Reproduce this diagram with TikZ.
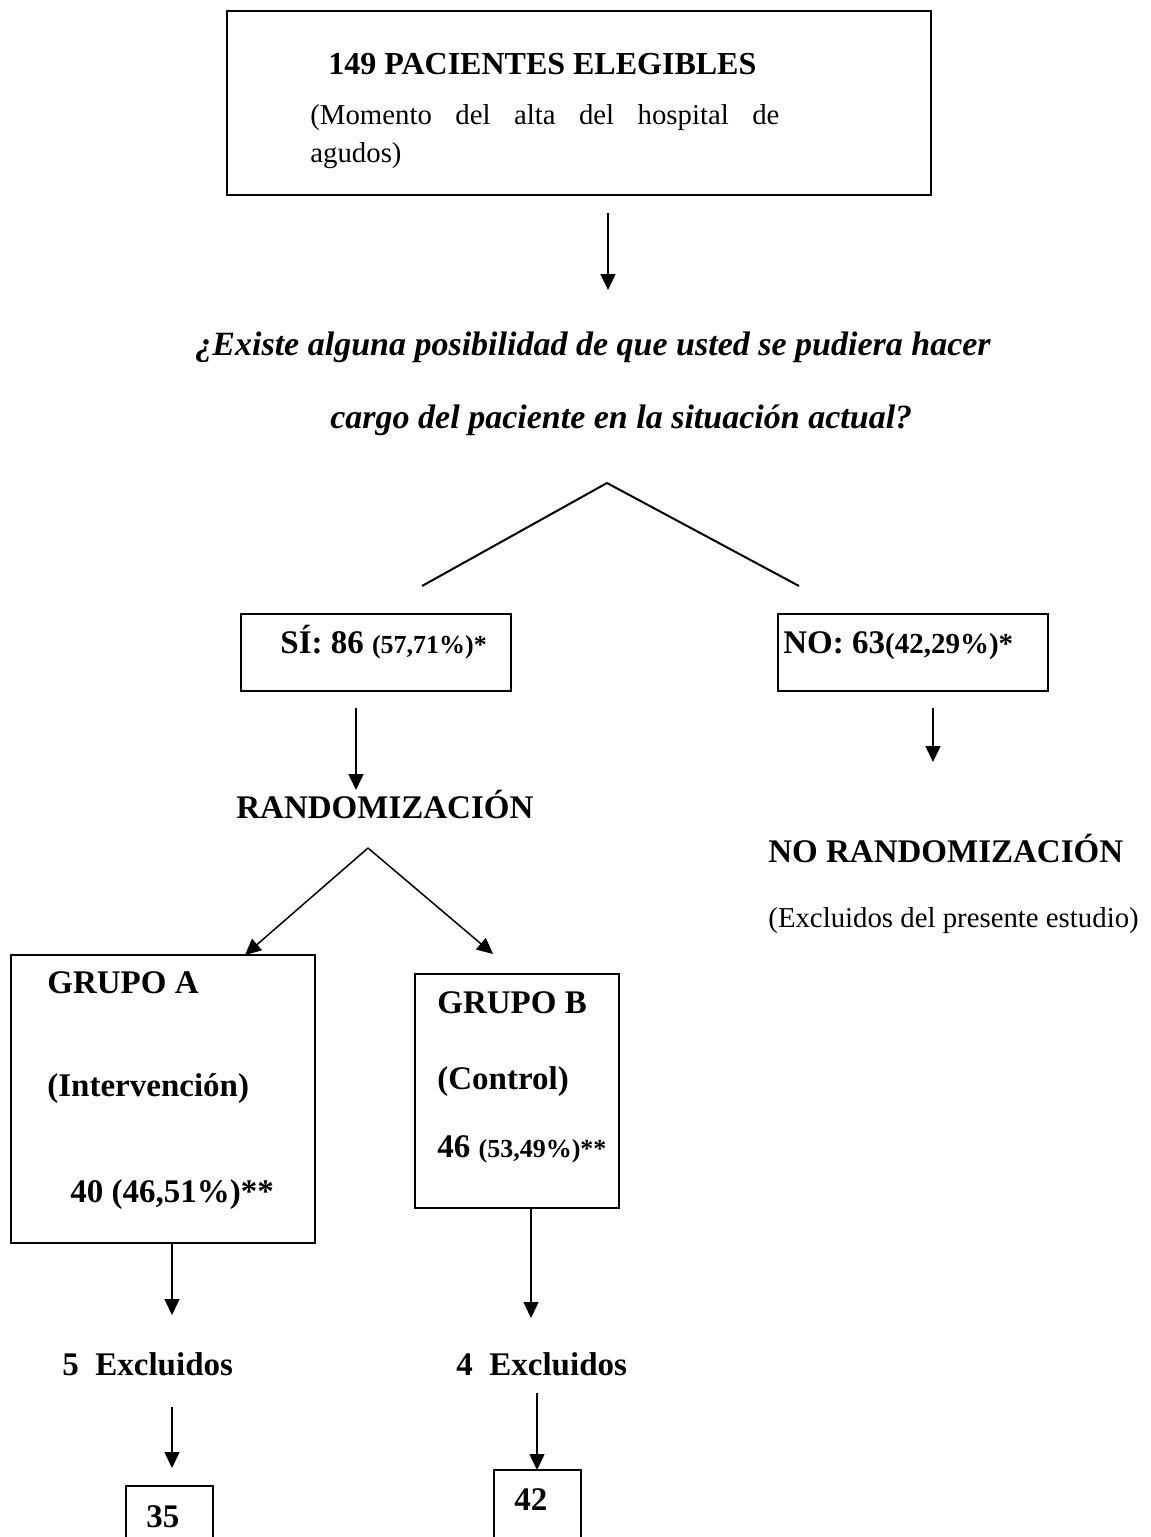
\documentclass[tikz,border=0pt]{standalone}
\usepackage{fontspec}
\setmainfont{Liberation Serif}
\usetikzlibrary{arrows.meta,fit}
\begin{document}
\begin{tikzpicture}[x=0.5pt,y=-0.5pt,
  box/.style={draw,line width=1pt,inner sep=0pt},
  lbl/.style={inner sep=0pt,anchor=base west},
  head/.style={lbl,font=\fontsize{16.5}{20}\selectfont\bfseries},
  body/.style={lbl,font=\fontsize{14.4}{19}\selectfont},
  quest/.style={lbl,font=\fontsize{17}{20}\selectfont\bfseries\itshape},
  arr/.style={line width=0.75pt,-{Triangle[width=7.5pt,length=8pt]}},
  branch/.style={line width=1pt}]
\newcommand{\pct}[2][13]{{\fontsize{#1}{16}\selectfont #2}}
\useasboundingbox[fill=white] (0,0) rectangle (1151,1537);

% boxes
\node[box,fit={(227,11) (931,195)}] (top) {};
\node[box,fit={(241,614) (511,691)}] (si) {};
\node[box,fit={(778,614) (1048,691)}] (no) {};
\node[box,fit={(11,955) (315,1243)}] (ga) {};
\node[box,fit={(415,974) (619,1208)}] (gb) {};
\node[box,fit={(126,1486) (213,1560)}] (b35) {};
\node[box,fit={(494,1470) (581,1560)}] (b42) {};

% texts
\node[head,font=\fontsize{16}{20}\selectfont\bfseries] (t1) at (328,74) {149 PACIENTES ELEGIBLES};
\node[body] (t2) at (310,124) {\makebox[234.5pt][s]{(Momento del alta del hospital de}};
\node[body] (t3) at (310,162) {agudos)};
\node[quest] (q1) at (195,355) {¿Existe alguna posibilidad de que usted se pudiera hacer};
\node[quest] (q2) at (330,428) {cargo del paciente en la situación actual?};
\node[head] (sit) at (280,653) {SÍ: 86 \pct{(57,71\%)*}};
\node[head] (not) at (783,653) {NO: 63\pct[14.5]{(42,29\%)*}};
\node[head] (rand) at (236,818) {RANDOMIZACIÓN};
\node[head] (norand) at (768,862) {NO RANDOMIZACIÓN};
\node[body] (excl) at (768,927) {(Excluidos del presente estudio)};
\node[head] (ga1) at (47,993) {GRUPO A};
\node[head] (ga2) at (47,1096) {(Intervención)};
\node[head] (ga3) at (70,1202) {40 (46,51\%)**};
\node[head] (gb1) at (437,1013) {GRUPO B};
\node[head] (gb2) at (437,1089) {(Control)};
\node[head] (gb3) at (437,1157) {46 \pct{(53,49\%)**}};
\node[head] (exA) at (62,1375) {5\ \ Excluidos};
\node[head] (exB) at (456,1375) {4\ \ Excluidos};
\node[head] (n35) at (146,1527) {35};
\node[head] (n42) at (514,1510) {42};

% connector ends
\coordinate (c1a) at (608,213);
\coordinate (c1b) at (608,290);
\coordinate (apex) at (607,483);
\coordinate (bl) at (422,586);
\coordinate (br) at (799,586);
\coordinate (csa) at (356,708);
\coordinate (csb) at (356,790);
\coordinate (cna) at (933,708);
\coordinate (cnb) at (933,762);
\coordinate (rapex) at (368,848);
\coordinate (rA) at (245,955);
\coordinate (rB) at (493,954);
\coordinate (cAa) at (172,1243);
\coordinate (cAb) at (172,1315);
\coordinate (cBa) at (531,1208);
\coordinate (cBb) at (531,1318);
\coordinate (dAa) at (172,1407);
\coordinate (dAb) at (172,1468);
\coordinate (dBa) at (537,1393);
\coordinate (dBb) at (537,1470);

% connectors
\draw[arr] (c1a) -- (c1b);
\draw[branch] (bl) -- (apex) -- (br);
\draw[arr] (csa) -- (csb);
\draw[arr] (cna) -- (cnb);
\draw[arr] (rapex) -- (rA);
\draw[arr] (rapex) -- (rB);
\draw[arr] (cAa) -- (cAb);
\draw[arr] (cBa) -- (cBb);
\draw[arr] (dAa) -- (dAb);
\draw[arr] (dBa) -- (dBb);
\end{tikzpicture}
\end{document}
